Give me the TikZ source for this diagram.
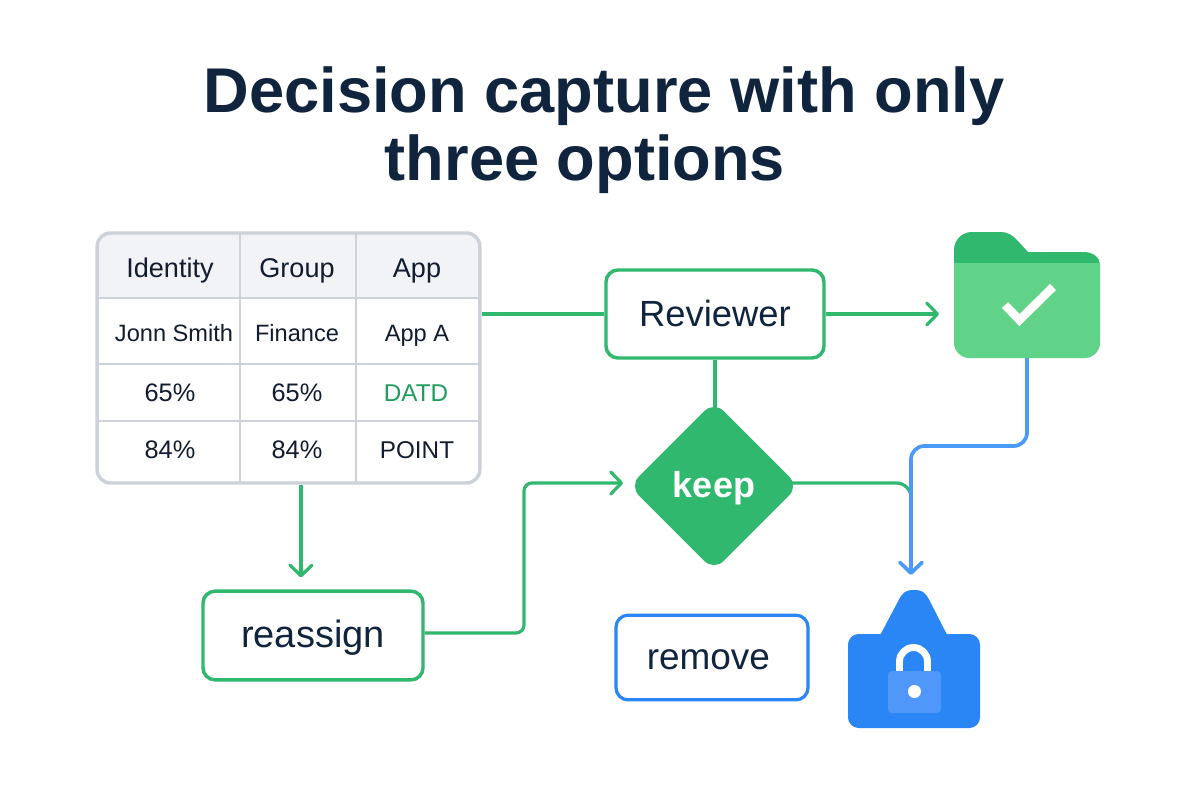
\documentclass[tikz,border=0pt]{standalone}
\usepackage{fontspec}
\setmainfont{Liberation Sans}
\usetikzlibrary{arrows.meta,shapes.geometric,backgrounds,calc}
\definecolor{navy}{HTML}{10243E}
\definecolor{ink}{HTML}{111C2E}
\definecolor{grn}{HTML}{2FB86E}
\definecolor{grnlight}{HTML}{60D388}
\definecolor{grntext}{HTML}{1F9D5C}
\definecolor{blu}{HTML}{2A85F5}
\definecolor{blulight}{HTML}{4F98FA}
\definecolor{bluline}{HTML}{4C9AF7}
\definecolor{gridc}{HTML}{CDD1D9}
\definecolor{headc}{HTML}{F1F3F6}
\tikzset{
  x=0.75pt,y=-0.75pt,
  titletext/.style={anchor=base,text=navy,font=\fontsize{47.4}{50}\selectfont\bfseries,inner sep=0},
  cell/.style={anchor=base,text=ink,inner sep=0},
  headcell/.style={cell,font=\fontsize{20.3}{24}\selectfont},
  namecell/.style={cell,font=\fontsize{17.7}{20}\selectfont},
  numcell/.style={cell,font=\fontsize{19}{22}\selectfont},
  wordcell/.style={cell,font=\fontsize{18.2}{22}\selectfont},
  tablebox/.style={draw=gridc,line width=2.6pt,rounded corners=10pt,minimum width=287pt,minimum height=187.5pt,inner sep=0},
  gridline/.style={draw=gridc,line width=2.2pt},
  greenbox/.style={draw=grn,line width=2.6pt,fill=white,rounded corners=9pt,text=navy,inner sep=0},
  bluebox/.style={draw=blu,line width=2.4pt,fill=white,rounded corners=9pt,text=navy,inner sep=0},
  decision/.style={diamond,fill=grn,rounded corners=10pt,minimum width=127pt,minimum height=127pt,inner sep=0,text=white,text height=17.5pt,text depth=0pt,font=\fontsize{27}{30}\selectfont\bfseries},
  icon/.style={inner sep=0,outer sep=0},
  greenline/.style={draw=grn,line width=2.4pt,rounded corners=6pt},
  blueline/.style={draw=bluline,line width=2.8pt,rounded corners=10pt},
  barb/.style={-{Straight Barb[length=8pt,width=16.5pt,round]}},
}
\begin{document}
\begin{tikzpicture}
\useasboundingbox (0,0) rectangle (1200,800);
\begin{scope}[on background layer]
  \fill[white] (0,0) rectangle (1200,800);
  \fill[headc,rounded corners=10pt] (97,298) -- (97,233) -- (480,233) -- (480,298) -- cycle;
  \fill[headc] (97,280) rectangle (480,298);
\end{scope}

% title
\node[titletext] (t1) at (604,112) {Decision capture with only};
\node[titletext] (t2) at (585,180) {three options};

% table
\node[tablebox] (tbl) at (288.5,358) {};
\draw[gridline] (240,233) -- (240,483);
\draw[gridline] (356,233) -- (356,483);
\draw[gridline] (97,298) -- (480,298);
\draw[gridline] (97,364) -- (480,364);
\draw[gridline] (97,421) -- (480,421);
\node[headcell] (c11) at (170,277) {Identity};
\node[headcell] (c12) at (297,277) {Group};
\node[headcell] (c13) at (417,277) {App};
\node[namecell] (c21) at (174,341) {Jonn Smith};
\node[namecell] (c22) at (297,341) {Finance};
\node[namecell] (c23) at (417,341) {App A};
\node[numcell] (c31) at (170,401) {65\%};
\node[numcell] (c32) at (297,401) {65\%};
\node[wordcell,text=grntext] (c33) at (416,401) {DATD};
\node[numcell] (c41) at (170,458) {84\%};
\node[numcell] (c42) at (297,458) {84\%};
\node[wordcell] (c43) at (417,458) {POINT};

% boxes
\node[greenbox,font=\fontsize{27.3}{30}\selectfont,text height=18pt,text depth=0pt,minimum width=163.5pt,minimum height=66pt] (rev) at (715,314) {Reviewer};
\node[greenbox,font=\fontsize{28.5}{30}\selectfont,text height=18.7pt,text depth=0pt,minimum width=165pt,minimum height=66.5pt] (rea) at (313,635.5) {reassign};
\node[bluebox,font=\fontsize{27.7}{30}\selectfont,text height=17.3pt,text depth=0pt,minimum width=144pt,minimum height=63.5pt] (rem) at (712,657.5) {remove\hspace{5.5pt}\null};
\node[decision] (keep) at (714,486) {keep};

% folder
\node[icon,minimum width=109.5pt,minimum height=94.5pt] (folder) at (1027,295) {};
\fill[grn] (954,264) -- (954,250) .. controls (954,240) and (962,232) .. (972,232) -- (1000,232)
  .. controls (1008,232) and (1012,235) .. (1017,240) -- (1028,252) -- (1084,252)
  .. controls (1093,252) and (1100,258) .. (1100,264) -- cycle;
\fill[grnlight] (954,263) -- (1100,263) -- (1100,343) .. controls (1100,351) and (1093,358) .. (1085,358)
  -- (969,358) .. controls (961,358) and (954,351) .. (954,343) -- cycle;
\draw[white,line width=6.4pt,miter limit=4] (1005,305) -- (1019.5,320) -- (1053,287);

% lock
\node[icon,minimum width=99pt,minimum height=103.5pt] (lock) at (914,659) {};
\fill[blu] (867,660) -- (899,599.5) .. controls (903,592) and (906,590) .. (914,590)
  .. controls (922,590) and (925,592) .. (929,599.5) -- (960,660) -- cycle;
\fill[blu,rounded corners=8pt] (848,634) -- (980,634) -- (980,728) -- (848,728) -- cycle;
\draw[white,line width=5.2pt] (899.5,675) -- (899.5,661.5) arc[start angle=180,end angle=0,radius=10.5pt] -- (927.5,675);
\fill[blulight,rounded corners=3pt] (888,671) rectangle (941,713);
\fill[white] (914.5,691.5) circle[radius=4.9pt];

% connectors
\coordinate (merge) at (911,497);
\begin{scope}[on background layer]
  \draw[greenline] (tbl.east |- rev.west) -- (rev.west);
  \draw[greenline] (rev.south) -- (keep.center -| rev.south);
  \draw[greenline,rounded corners=11pt] ($(keep.center)+(0,-3)$) -- (merge |- 0,483) -- (merge);
\end{scope}
\draw[greenline,barb] (rev.east) -- ($(folder.west |- rev.east)+(-15,0)$);
\draw[greenline,barb] ($(tbl.south)+(12.5,0)$) -- ($(rea.north)+(-12,-12)$);
\draw[greenline,barb] (rea.east |- 0,633) -- (524,633) -- (524,483) -- ($(keep.west)+(-6,-3)$);
\draw[blueline,barb] (folder.south) -- (1027,446) -- (911,446) -- ($(lock.north)+(-3,-15)$);
\end{tikzpicture}
\end{document}
